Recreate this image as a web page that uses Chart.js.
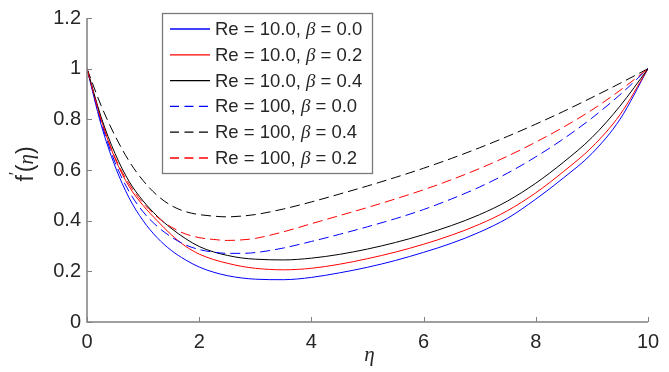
<!DOCTYPE html>
<html>
<head>
<meta charset="utf-8">
<script src="https://cdn.jsdelivr.net/npm/chart.js@4/dist/chart.umd.min.js"></script>
<style>
html,body{margin:0;padding:0;background:#fff;}
#wrap{position:relative;width:669px;height:372px;}
</style>
</head>
<body>
<div id="wrap"><canvas id="c" width="669" height="372"></canvas></div>
<script>
// ---- data ----
const eta = [0,0.25,0.5,0.75,1,1.25,1.5,1.75,2,2.25,2.5,2.75,3,3.5,4,4.5,5,5.5,6,6.5,7,7.5,8,8.5,9,9.5,10];
const re10_b00  = [1,0.78,0.615,0.49,0.40,0.333,0.283,0.246,0.217,0.197,0.183,0.174,0.169,0.167,0.176,0.194,0.216,0.243,0.275,0.311,0.355,0.41,0.485,0.57,0.665,0.80,1];
const re10_b02  = [1,0.80,0.645,0.535,0.46,0.40,0.345,0.30,0.268,0.247,0.232,0.22,0.212,0.206,0.212,0.228,0.25,0.276,0.307,0.343,0.386,0.44,0.51,0.595,0.69,0.818,1];
const re10_b04  = [1,0.81,0.665,0.555,0.478,0.418,0.37,0.33,0.298,0.277,0.263,0.253,0.248,0.245,0.252,0.267,0.288,0.314,0.345,0.381,0.424,0.478,0.548,0.632,0.728,0.852,1];
const re100_b00 = [1,0.79,0.63,0.515,0.435,0.378,0.336,0.305,0.286,0.276,0.271,0.271,0.274,0.292,0.318,0.346,0.376,0.408,0.444,0.486,0.533,0.588,0.652,0.724,0.805,0.897,1];
const re100_b04 = [1,0.855,0.735,0.635,0.558,0.50,0.46,0.436,0.424,0.418,0.415,0.418,0.424,0.446,0.474,0.505,0.537,0.571,0.607,0.646,0.688,0.733,0.781,0.832,0.886,0.942,1];
const re100_b02 = [1,0.80,0.65,0.545,0.47,0.415,0.375,0.348,0.333,0.326,0.322,0.324,0.33,0.356,0.388,0.42,0.452,0.486,0.522,0.562,0.606,0.655,0.71,0.77,0.837,0.914,1];

const reLabels   = ['10.0','10.0','10.0','100','100','100'];
const betaLabels = ['0.0','0.2','0.4','0.0','0.4','0.2'];
const seriesData = [re10_b00, re10_b02, re10_b04, re100_b00, re100_b04, re100_b02];
const seriesColors = ['#0000ff','#ff0000','#000000','#0000ff','#000000','#ff0000'];
const seriesDashed = [false,false,false,true,true,true];

const xTicks = [0,2,4,6,8,10];
const yTicks = [0,0.2,0.4,0.6,0.8,1,1.2];
const xTitle = 'η';
const yTitle = ['f', '\u2032', '(', 'η', ')'];

const DASH = [10,5];
const AXIS_COLOR = '#808080';
const TEXT_COLOR = '#262626';
const SANS = '"Liberation Sans", Arial, sans-serif';
const SERIF = '"Liberation Serif", "Times New Roman", serif';

const datasets = seriesData.map((arr, i) => ({
  label: 'Re = ' + reLabels[i] + ', β = ' + betaLabels[i],
  data: eta.map((x, k) => ({x: x, y: arr[k]})),
  borderColor: seriesColors[i],
  backgroundColor: seriesColors[i],
  borderWidth: 1,
  borderDash: seriesDashed[i] ? DASH : [],
  pointRadius: 0,
  fill: false,
  cubicInterpolationMode: 'monotone',
  order: seriesData.length - i
}));

const decor = {
  id: 'decor',
  afterDraw(chart) {
    const ctx = chart.ctx;
    const xs = chart.scales.x, ys = chart.scales.y;
    const a = chart.chartArea;
    ctx.save();
    // axis lines
    ctx.strokeStyle = AXIS_COLOR;
    ctx.lineWidth = 1.5;
    ctx.setLineDash([]);
    ctx.beginPath();
    ctx.moveTo(a.left, a.top);
    ctx.lineTo(a.left, a.bottom);
    ctx.lineTo(a.right, a.bottom);
    ctx.stroke();
    // inward ticks
    ctx.lineWidth = 1;
    ctx.beginPath();
    xTicks.forEach(v => {
      const px = Math.round(xs.getPixelForValue(v)) + 0.5;
      ctx.moveTo(px, a.bottom); ctx.lineTo(px, a.bottom - 5);
    });
    yTicks.forEach(v => {
      const py = Math.round(ys.getPixelForValue(v)) + 0.5;
      ctx.moveTo(a.left, py); ctx.lineTo(a.left + 5, py);
    });
    ctx.stroke();

    // x title
    ctx.fillStyle = TEXT_COLOR;
    ctx.font = 'italic 21px ' + SERIF;
    ctx.textAlign = 'center';
    ctx.textBaseline = 'alphabetic';
    ctx.fillText(xTitle, (a.left + a.right) / 2 + 2, 361);

    // y title (rotated)
    ctx.save();
    ctx.translate(33, 164);
    ctx.rotate(-Math.PI / 2);
    const parts = [
      {t: yTitle[0], f: '23px ' + SANS, dy: 0},
      {t: yTitle[1], f: '16px ' + SANS, dy: -12},
      {t: yTitle[2], f: '23px ' + SANS, dy: 0},
      {t: yTitle[3], f: 'italic 21px ' + SERIF, dy: 0},
      {t: yTitle[4], f: '23px ' + SANS, dy: 0}
    ];
    let tw = 0;
    parts.forEach(p => { ctx.font = p.f; p.w = ctx.measureText(p.t).width; tw += p.w; });
    let cx = -tw / 2;
    ctx.textAlign = 'left';
    parts.forEach(p => { ctx.font = p.f; ctx.fillText(p.t, cx, p.dy); cx += p.w; });
    ctx.restore();

    // legend
    const lx = 162, ly = 13, lw = 210, lh = 160;
    ctx.fillStyle = '#ffffff';
    ctx.fillRect(lx, ly, lw, lh);
    ctx.strokeStyle = '#7a7a7a';
    ctx.lineWidth = 1.3;
    ctx.strokeRect(lx + 0.5, ly + 0.5, lw, lh);
    chart.data.datasets.forEach((ds, i) => {
      const y = 29 + i * 25.8;
      ctx.save();
      ctx.strokeStyle = seriesColors[i];
      ctx.lineWidth = 1.3;
      ctx.setLineDash(seriesDashed[i] ? [9,5.5] : []);
      ctx.beginPath();
      ctx.moveTo(170, y);
      ctx.lineTo(210, y);
      ctx.stroke();
      ctx.restore();
      ctx.fillStyle = TEXT_COLOR;
      ctx.textBaseline = 'middle';
      ctx.textAlign = 'left';
      const segs = ds.label.split('β');
      let tx = 215;
      ctx.font = '18.5px ' + SANS;
      ctx.fillText(segs[0], tx, y + 1);
      tx += ctx.measureText(segs[0]).width;
      ctx.font = 'italic 19px ' + SERIF;
      ctx.fillText('β', tx, y + 1);
      tx += ctx.measureText('β').width;
      ctx.font = '18.5px ' + SANS;
      ctx.fillText(segs[1], tx, y + 1);
    });
    ctx.restore();
  }
};

new Chart(document.getElementById('c'), {
  type: 'line',
  data: { datasets: datasets },
  options: {
    responsive: false,
    animation: false,
    layout: { padding: { left: 0, top: 12, right: 21, bottom: 0 } },
    plugins: { legend: { display: false }, tooltip: { enabled: false } },
    scales: {
      x: {
        type: 'linear', min: 0, max: 10,
        afterFit(s) { s.height = 50; },
        afterBuildTicks(s) { s.ticks = xTicks.map(v => ({value: v})); },
        border: { display: false },
        grid: { display: false, drawTicks: false },
        ticks: { color: TEXT_COLOR, font: { family: SANS, size: 20 }, padding: 8, maxRotation: 0,
                 callback: v => String(v) }
      },
      y: {
        type: 'linear', min: 0, max: 1.2,
        afterFit(s) { s.width = 87; },
        afterBuildTicks(s) { s.ticks = yTicks.map(v => ({value: v})); },
        border: { display: false },
        grid: { display: false, drawTicks: false },
        ticks: { color: TEXT_COLOR, font: { family: SANS, size: 20 }, padding: 6,
                 callback: v => String(Math.round(v * 10) / 10) }
      }
    }
  },
  plugins: [decor]
});
</script>
</body>
</html>
